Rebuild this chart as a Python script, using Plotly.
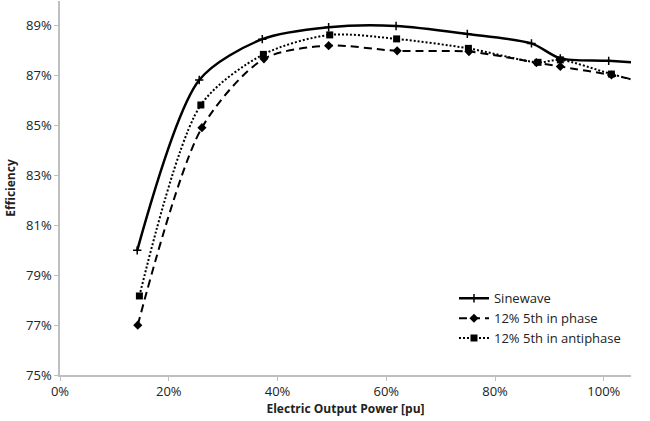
import plotly.graph_objects as go

power_sine = [0.142, 0.256, 0.372, 0.494, 0.618, 0.749, 0.867, 0.920, 1.009, 1.13]
eff_sine = [0.800, 0.8683, 0.8847, 0.8895, 0.8900, 0.8868, 0.8830, 0.8770, 0.8760, 0.8742]

power_phase = [0.143, 0.261, 0.375, 0.494, 0.620, 0.752, 0.876, 0.920, 1.014, 1.13]
eff_phase = [0.770, 0.8492, 0.8768, 0.8821, 0.8800, 0.8797, 0.8753, 0.8737, 0.8703, 0.8648]

power_anti = [0.146, 0.259, 0.374, 0.496, 0.619, 0.751, 0.879, 0.920, 1.014, 1.13]
eff_anti = [0.7817, 0.8583, 0.8786, 0.8864, 0.8848, 0.8810, 0.8754, 0.8764, 0.8707, 0.8640]

x_ticks = [0, 0.2, 0.4, 0.6, 0.8, 1.0]
y_ticks = [0.75, 0.77, 0.79, 0.81, 0.83, 0.85, 0.87, 0.89]

FONT = "Open Sans"

fig = go.Figure()
fig.add_trace(go.Scatter(
    x=power_sine, y=eff_sine, name="Sinewave", mode="lines+markers",
    line=dict(color="black", width=2.5, shape="spline", smoothing=0.8),
    marker=dict(symbol="cross-thin-open", size=6, line=dict(width=1.5, color="black"), color="black"),
))
fig.add_trace(go.Scatter(
    x=power_phase, y=eff_phase, name="12% 5th in phase", mode="lines+markers",
    line=dict(color="black", width=2, shape="spline", smoothing=0.8, dash="8px,5px"),
    marker=dict(symbol="diamond", size=7, color="black"),
))
fig.add_trace(go.Scatter(
    x=power_anti, y=eff_anti, name="12% 5th in antiphase", mode="lines+markers",
    line=dict(color="black", width=2, shape="spline", smoothing=0.8, dash="2px,2px"),
    marker=dict(symbol="square", size=7, color="black"),
))

fig.update_layout(
    width=650, height=421,
    margin=dict(l=60, r=19, t=1, b=46, autoexpand=False),
    paper_bgcolor="white", plot_bgcolor="white",
    font=dict(family=FONT, size=12, color="#222"),
    showlegend=True,
    legend=dict(x=0.69, y=0.245, xanchor="left", yanchor="top",
                bgcolor="rgba(0,0,0,0)", font=dict(family=FONT, size=13, color="#222"),
                itemwidth=30),
    xaxis=dict(range=[0, 1.05], tickvals=x_ticks, tickformat=".0%", automargin=False,
               tickfont=dict(family=FONT, size=13, color="#222"),
               showgrid=False, zeroline=False, showline=True, linecolor="#bfbfbf", linewidth=1.5,
               ticks="outside", ticklen=4, tickcolor="#bfbfbf",
               title=dict(text="<b>Electric Output Power [pu]</b>", font=dict(family=FONT, size=12, color="#222"), standoff=3)),
    yaxis=dict(range=[0.75, 0.90], tickvals=y_ticks, tickformat=".0%", automargin=False,
               tickfont=dict(family=FONT, size=13, color="#222"),
               showgrid=False, zeroline=False, showline=True, linecolor="#bfbfbf", linewidth=1.5,
               ticks="outside", ticklen=4, tickcolor="#bfbfbf",
               title=dict(text="<b>Efficiency</b>", font=dict(family=FONT, size=12, color="#222"), standoff=8)),
)

fig.write_html("out.html", config={"displayModeBar": False},
               post_script="document.body.style.margin='0';")
